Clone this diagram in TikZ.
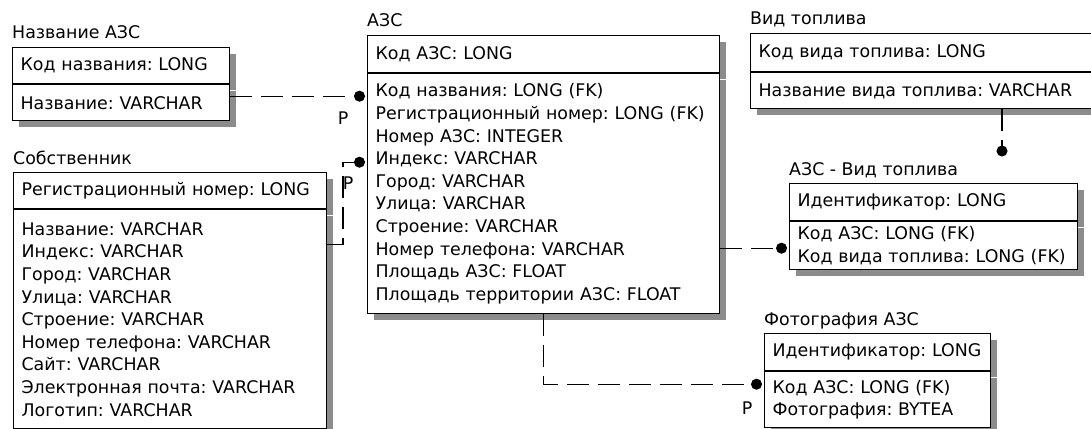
\documentclass[tikz,border=0pt]{standalone}
\usepackage{fontspec}
\setmainfont{DejaVu Sans}
\usetikzlibrary{arrows.meta,positioning,shadows}
\frenchspacing

\begin{document}
\begin{tikzpicture}[
  x=1pt, y=-1pt,
  font=\fontsize{17.4}{22.6}\selectfont,
  ent/.style 2 args={draw, line width=1.2pt, fill=white, anchor=north west, align=left,
    inner xsep=8pt, inner ysep=0pt, text width=#1, minimum height=#2,
    drop shadow={shadow xshift=6pt, shadow yshift=-6pt, fill=black!45, opacity=1}},
  title/.style={inner sep=0pt, anchor=base west},
  rel/.style={line width=1.2pt, dash pattern=on 22pt off 9pt, -{Circle[length=11pt]}, shorten >=2pt},
  plab/.style={inner sep=0pt}
]
\useasboundingbox (0,0) rectangle (1091,428);

\node[ent={201pt}{36pt}] (nazk) at (12,47) {Код названия: LONG};
\node[ent={201pt}{36pt}, below=0pt of nazk] (naza) {Название: VARCHAR};
\node[title, above=8pt of nazk.north west, anchor=base west] (nazt) {Название АЗС};

\node[ent={297pt}{36pt}] (sobk) at (13,172) {Регистрационный номер: LONG};
\node[ent={297pt}{219pt}, below=0pt of sobk] (soba) {Название: VARCHAR\\Индекс: VARCHAR\\Город: VARCHAR\\Улица: VARCHAR\\Строение: VARCHAR\\Номер телефона: VARCHAR\\Сайт: VARCHAR\\Электронная почта: VARCHAR\\Логотип: VARCHAR};
\node[title, above=8pt of sobk.north west, anchor=base west] (sobt) {Собственник};

\node[ent={336pt}{37pt}] (azsk) at (367,35) {Код АЗС: LONG};
\node[ent={336pt}{240pt}, below=0pt of azsk] (azsa) {Код названия: LONG (FK)\\Регистрационный номер: LONG (FK)\\Номер АЗС: INTEGER\\Индекс: VARCHAR\\Город: VARCHAR\\Улица: VARCHAR\\Строение: VARCHAR\\Номер телефона: VARCHAR\\Площадь АЗС: FLOAT\\Площадь территории АЗС: FLOAT};
\node[title, above=8pt of azsk.north west, anchor=base west] (azst) {АЗС};

\node[ent={334pt}{38pt}] (vidk) at (750,33) {Код вида топлива: LONG};
\node[ent={334pt}{36pt}, below=0pt of vidk] (vida) {Название вида топлива: VARCHAR};
\node[title, above=8pt of vidk.north west, anchor=base west] (vidt) {Вид топлива};

\node[ent={272pt}{37pt}] (avk) at (789,183) {Идентификатор: LONG};
\node[ent={272pt}{48pt}, below=0pt of avk] (ava) {Код АЗС: LONG (FK)\\Код вида топлива: LONG (FK)};
\node[title, above=8pt of avk.north west, anchor=base west] (avt) {АЗС - Вид топлива};

\node[ent={210pt}{37pt}] (fotk) at (764,333) {Идентификатор: LONG};
\node[ent={210pt}{56pt}, below=0pt of fotk] (fota) {Код АЗС: LONG (FK)\\Фотография: BYTEA};
\node[title, above=8pt of fotk.north west, anchor=base west] (fott) {Фотография АЗС};

% relationship ends
\coordinate (e1) at ([yshift=-23pt]azsa.north west);
\coordinate (e2) at ([yshift=-89pt]azsa.north west);
\coordinate (e3) at (1002,158.5);
\coordinate (e4) at ([yshift=-27pt]ava.north west);
\coordinate (e5) at ([yshift=-13pt]fota.north west);

\draw[rel] (e1 -| naza.east) -- (e1);
\draw[rel] ([yshift=-35pt]sobk.south east) -| ([xshift=-24pt]e2) -- (e2);
\draw[rel] (e3 |- vida.south) -- (e3);
\draw[rel] (e4 -| azsa.east) -- (e4);
\draw[rel] (azsa.south) |- (e5);

\node[plab] (p1) at ([shift={(-24pt,-22pt)}]e1) {P};
\node[plab] (p2) at ([shift={(-19pt,-21pt)}]e2) {P};
\node[plab] (p3) at ([shift={(-17pt,-24pt)}]e5) {P};

\end{tikzpicture}
\end{document}
